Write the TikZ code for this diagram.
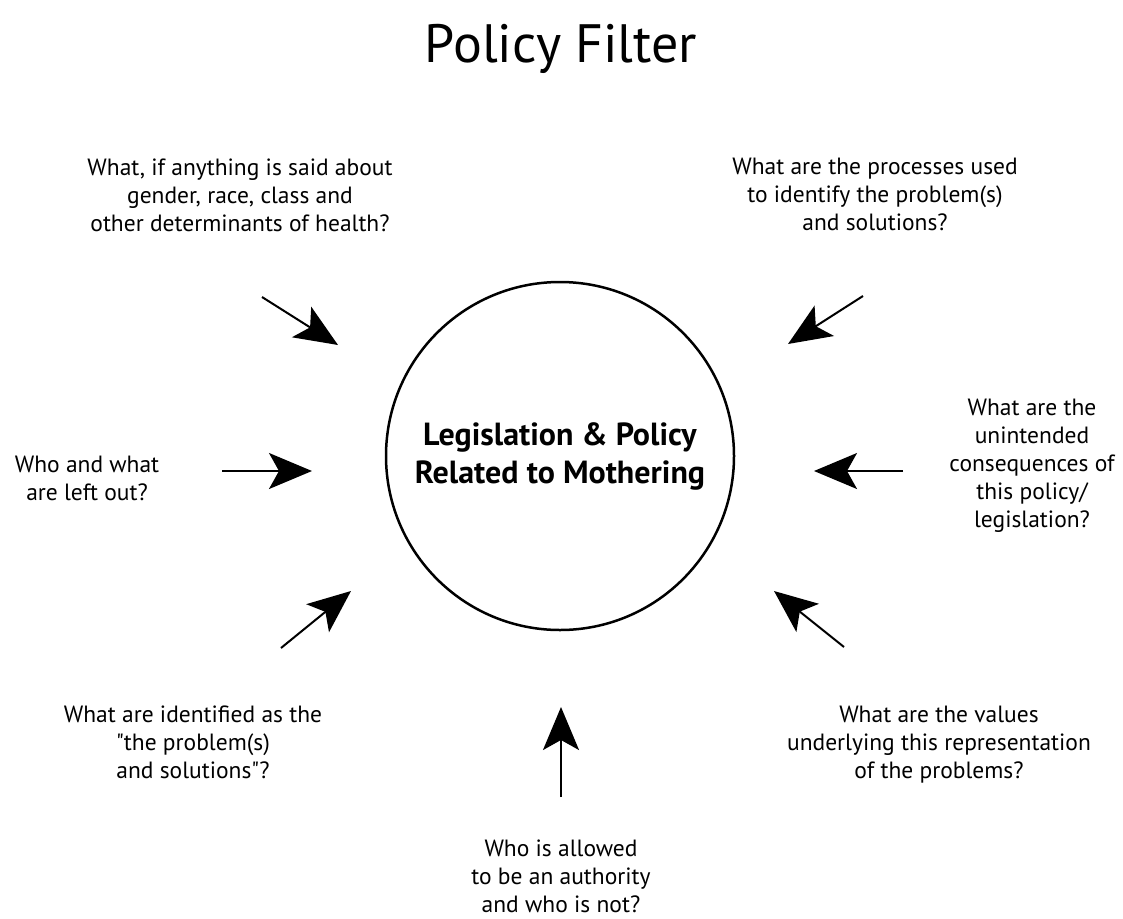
\documentclass[tikz,border=0pt]{standalone}
\usepackage{fontspec}
\setmainfont{PT Sans}
\newfontfamily\plainq{PT Sans}
\usetikzlibrary{arrows.meta}
\begin{document}
\begin{tikzpicture}[x=1pt,y=-1pt,
  qtext/.style={align=center,anchor=base,inner sep=0pt,font=\fontsize{23.5}{28}\selectfont},
  inarrow/.style={line width=2pt,-{Stealth[length=43pt,width=36pt,inset=10pt]}},
  centre/.style={circle,draw,line width=2.5pt,minimum size=348pt,inner sep=0pt,align=center,font=\bfseries\fontsize{32}{38}\selectfont}
]
\useasboundingbox (0,0) rectangle (1123,918);
\node[anchor=base,inner sep=0pt,font=\fontsize{54}{60}\selectfont] (title) at (561,62) {Policy Filter};
\node[centre] (hub) at (560,456) {Legislation \& Policy\\Related to Mothering};

\node[qtext] (tl) at (240,231) {What, if anything is said about\\gender, race, class and\\other determinants of health?};
\node[qtext] (tr) at (875,230) {What are the processes used\\to identify the problem(s)\\and solutions?};
\node[qtext] (l) at (87,500) {Who and what\\are left out?};
\node[qtext] (r) at (1032,527) {What are the\\unintended\\consequences of\\this policy/\\legislation?};
\node[qtext] (bl) at (193,778) {What are identified as the\\{\plainq "}the problem(s)\\and solutions{\plainq "}?};
\node[qtext] (br) at (939,778) {What are the values\\underlying this representation\\of the problems?};
\node[qtext] (b) at (561,912) {Who is allowed\\to be an authority\\and who is not?};

\coordinate (tl0) at (262,297); \coordinate (tl1) at (338,345);
\coordinate (tr0) at (863,296); \coordinate (tr1) at (788,344);
\coordinate (l0) at (222,471);  \coordinate (l1) at (312,471);
\coordinate (r0) at (903,471);  \coordinate (r1) at (814,471);
\coordinate (bl0) at (281,648); \coordinate (bl1) at (351,591);
\coordinate (br0) at (844,647); \coordinate (br1) at (774,591);
\coordinate (b0) at (561,797);  \coordinate (b1) at (561,707);

\draw[inarrow] (tl0) -- (tl1);
\draw[inarrow] (tr0) -- (tr1);
\draw[inarrow] (l0) -- (l1);
\draw[inarrow] (r0) -- (r1);
\draw[inarrow] (bl0) -- (bl1);
\draw[inarrow] (br0) -- (br1);
\draw[inarrow] (b0) -- (b1);
\end{tikzpicture}
\end{document}
